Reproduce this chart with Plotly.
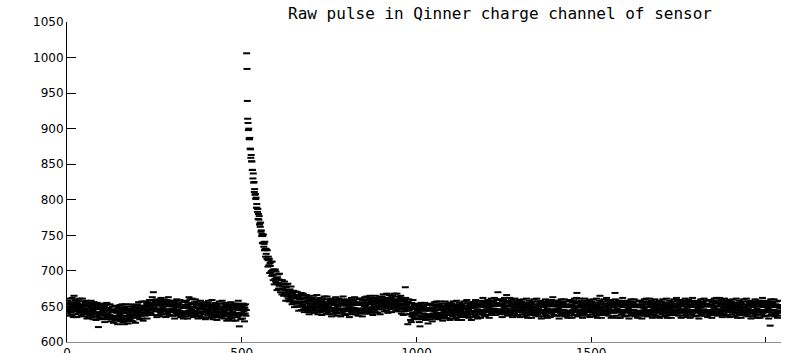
import numpy as np
import plotly.graph_objects as go

# ADC samples before the pulse (samples 0..513)
baseline_pre = [
    653, 645, 658, 640, 648, 661, 643, 650, 637, 654, 646, 656, 642, 651, 638, 662, 645, 653, 635, 649,
    665, 651, 646, 659, 639, 653, 648, 643, 656, 635, 654, 645, 658, 640, 650, 647, 661, 642, 651, 643,
    649, 637, 653, 644, 661, 642, 650, 639, 657, 647, 636, 652, 645, 655, 641, 658, 644, 633, 653, 650,
    642, 653, 634, 650, 647, 639, 655, 643, 637, 658, 640, 648, 635, 651, 645, 632, 653, 642, 656, 640,
    654, 639, 647, 631, 650, 642, 655, 636, 649, 641, 621, 638, 646, 634, 652, 639, 647, 633, 654, 642,
    640, 648, 632, 645, 653, 637, 642, 650, 628, 647, 639, 652, 636, 644, 655, 634, 645, 640, 632, 648,
    648, 638, 634, 653, 637, 645, 629, 642, 646, 632, 650, 635, 643, 627, 645, 642, 634, 651, 637, 630,
    634, 650, 641, 631, 644, 625, 647, 636, 642, 649, 633, 639, 652, 629, 641, 634, 645, 637, 653, 631,
    642, 628, 647, 641, 625, 649, 631, 653, 637, 633, 644, 629, 650, 636, 645, 626, 641, 647, 634, 639,
    632, 642, 653, 635, 630, 646, 643, 638, 650, 629, 645, 648, 634, 642, 637, 651, 627, 645, 640, 646,
    648, 640, 653, 635, 643, 656, 638, 645, 632, 649, 641, 651, 637, 646, 633, 657, 640, 648, 630, 644,
    640, 649, 644, 657, 637, 651, 646, 641, 654, 633, 652, 643, 656, 638, 648, 645, 659, 640, 649, 641,
    651, 639, 655, 646, 663, 644, 652, 670, 659, 649, 638, 654, 647, 657, 643, 660, 646, 635, 655, 652,
    646, 657, 638, 654, 651, 643, 659, 647, 641, 662, 644, 652, 639, 655, 649, 636, 657, 646, 660, 644,
    658, 643, 651, 635, 654, 646, 659, 640, 653, 645, 663, 642, 650, 638, 656, 643, 651, 637, 658, 646,
    645, 653, 637, 650, 658, 642, 647, 655, 633, 652, 644, 657, 641, 649, 660, 639, 650, 645, 637, 653,
    654, 644, 640, 659, 643, 651, 635, 648, 652, 638, 656, 641, 649, 633, 651, 648, 640, 657, 643, 636,
    642, 658, 649, 639, 652, 633, 655, 644, 650, 663, 641, 647, 660, 637, 649, 642, 653, 645, 661, 639,
    649, 635, 654, 648, 641, 656, 638, 660, 644, 640, 651, 636, 657, 643, 652, 633, 648, 654, 641, 646,
    637, 647, 658, 640, 635, 651, 648, 643, 655, 634, 650, 653, 639, 647, 642, 656, 632, 650, 645, 651,
    650, 642, 655, 637, 645, 658, 640, 647, 634, 651, 643, 653, 639, 648, 635, 659, 642, 650, 632, 646,
    638, 647, 642, 655, 635, 649, 644, 639, 652, 631, 650, 641, 654, 636, 646, 643, 657, 638, 647, 639,
    646, 634, 650, 641, 658, 639, 647, 636, 654, 644, 633, 649, 642, 652, 638, 655, 641, 630, 650, 647,
    640, 651, 632, 648, 645, 637, 653, 641, 635, 656, 638, 646, 633, 649, 643, 630, 651, 640, 654, 638,
    653, 638, 646, 630, 649, 641, 654, 635, 648, 640, 658, 637, 645, 622, 651, 638, 646, 632, 653, 641,
    641, 649, 633, 646, 654, 638, 643, 651, 629, 648, 640, 653, 637, 645,
]

# Pulse and its decay (samples 514..699)
pulse = [
    1006, 984, 939, 914,
    908, 898, 900, 886, 885, 887, 872, 871, 859, 863, 854, 854, 842, 842, 830, 837, 824, 825, 811, 815,
    807, 808, 801, 803, 789, 794, 788, 783, 787, 773, 780, 772, 777, 765, 767, 762, 768, 755, 757, 749,
    752, 739, 749, 740, 751, 734, 738, 729, 741, 731, 720, 731, 724, 730, 717, 729, 716, 706, 720, 715,
    708, 717, 697, 711, 707, 698, 713, 700, 693, 713, 694, 701, 687, 702, 695, 681, 701, 689, 702, 685,
    699, 683, 690, 673, 691, 683, 695, 675, 688, 679, 696, 675, 682, 670, 687, 674, 681, 667, 687, 675,
    674, 682, 665, 678, 685, 669, 673, 681, 658, 677, 668, 681, 664, 672, 682, 661, 671, 666, 657, 673,
    674, 664, 659, 678, 662, 669, 653, 665, 669, 655, 672, 657, 665, 649, 666, 663, 655, 671, 657, 650,
    654, 670, 661, 650, 663, 644, 665, 654, 660, 666, 650, 656, 669, 645, 657, 650, 661, 652, 668, 646,
    657, 642, 661, 655, 648, 663, 645, 666, 650, 646, 657, 642, 663, 649, 658, 639, 654, 660, 647, 652,
    644, 654,
]

# Baseline after the pulse (samples 700..2042)
baseline_post = [
    657, 649, 662, 644, 652, 665, 647, 654, 641, 658, 650, 660, 646, 655, 642, 666, 649, 657, 639, 653,
    645, 654, 649, 662, 642, 656, 651, 646, 659, 638, 657, 648, 661, 643, 653, 650, 664, 645, 654, 646,
    652, 640, 656, 647, 664, 645, 653, 642, 660, 650, 639, 655, 648, 658, 644, 661, 647, 636, 656, 653,
    647, 658, 639, 655, 652, 644, 660, 648, 642, 663, 645, 653, 640, 656, 650, 637, 658, 647, 661, 645,
    659, 644, 652, 636, 655, 647, 660, 641, 654, 646, 664, 643, 651, 639, 657, 644, 652, 638, 659, 647,
    647, 655, 639, 652, 660, 644, 649, 657, 635, 654, 646, 659, 643, 651, 662, 641, 652, 647, 639, 655,
    658, 648, 644, 663, 647, 655, 639, 652, 656, 642, 660, 645, 653, 637, 655, 652, 644, 661, 647, 640,
    645, 661, 652, 642, 655, 636, 658, 647, 653, 660, 644, 650, 663, 640, 652, 645, 656, 648, 664, 642,
    654, 640, 659, 653, 646, 661, 643, 665, 649, 645, 656, 641, 662, 648, 657, 638, 653, 659, 646, 651,
    644, 654, 665, 647, 642, 658, 655, 650, 662, 641, 657, 660, 646, 654, 649, 663, 639, 657, 652, 658,
    659, 651, 664, 646, 654, 667, 649, 656, 643, 660, 652, 662, 648, 657, 644, 668, 651, 659, 641, 655,
    649, 658, 653, 666, 646, 660, 655, 650, 663, 642, 661, 652, 665, 647, 657, 654, 668, 649, 658, 650,
    656, 644, 660, 651, 668, 649, 657, 646, 664, 654, 643, 659, 652, 662, 648, 665, 651, 640, 660, 657,
    646, 657, 638, 654, 651, 643, 659, 647, 677, 662, 644, 652, 639, 655, 649, 625, 657, 646, 660, 644,
    654, 639, 647, 631, 650, 628, 655, 636, 649, 641, 659, 638, 646, 634, 652, 639, 647, 633, 654, 642,
    640, 648, 632, 645, 653, 637, 642, 650, 628, 647, 622, 652, 636, 644, 655, 634, 645, 640, 632, 648,
    650, 640, 636, 655, 639, 647, 631, 644, 648, 634, 652, 637, 645, 626, 647, 644, 636, 653, 639, 632,
    638, 654, 645, 635, 648, 629, 651, 640, 646, 653, 637, 643, 656, 633, 645, 638, 649, 641, 657, 635,
    646, 632, 651, 645, 638, 653, 635, 657, 641, 637, 648, 633, 654, 640, 649, 630, 645, 651, 638, 643,
    636, 646, 657, 639, 634, 650, 647, 642, 654, 633, 649, 652, 638, 646, 641, 655, 631, 649, 644, 650,
    649, 641, 654, 636, 644, 657, 639, 646, 633, 650, 642, 652, 638, 647, 634, 658, 641, 649, 631, 645,
    638, 647, 642, 655, 635, 649, 644, 639, 652, 631, 650, 641, 654, 636, 646, 643, 657, 638, 647, 639,
    647, 635, 651, 642, 659, 640, 648, 637, 655, 645, 634, 650, 643, 653, 639, 656, 642, 631, 651, 648,
    643, 654, 635, 651, 648, 640, 656, 644, 638, 659, 641, 649, 636, 652, 646, 633, 654, 643, 657, 641,
    657, 642, 650, 634, 653, 645, 658, 639, 652, 644, 662, 641, 649, 637, 655, 642, 650, 636, 657, 645,
    646, 654, 638, 651, 659, 643, 648, 656, 634, 653, 645, 658, 642, 650, 661, 640, 651, 646, 638, 654,
    657, 647, 643, 662, 646, 654, 638, 651, 655, 641, 659, 644, 652, 670, 654, 651, 643, 660, 646, 639,
    644, 660, 651, 641, 654, 635, 657, 646, 652, 659, 643, 649, 662, 639, 651, 644, 655, 647, 666, 641,
    651, 637, 656, 650, 643, 658, 640, 662, 646, 642, 653, 638, 659, 645, 654, 635, 650, 656, 643, 648,
    640, 650, 661, 643, 638, 654, 651, 646, 658, 637, 653, 656, 642, 650, 645, 659, 635, 653, 648, 654,
    652, 644, 657, 639, 647, 660, 642, 649, 636, 653, 645, 655, 641, 650, 637, 661, 644, 652, 634, 648,
    641, 650, 645, 658, 638, 652, 647, 642, 655, 634, 653, 644, 657, 639, 649, 646, 660, 641, 650, 642,
    649, 637, 653, 644, 661, 642, 650, 639, 657, 647, 636, 652, 645, 655, 641, 658, 644, 633, 653, 650,
    644, 655, 636, 652, 649, 641, 657, 645, 639, 660, 642, 650, 637, 653, 647, 634, 655, 644, 658, 642,
    658, 643, 651, 635, 654, 646, 659, 640, 653, 645, 663, 642, 650, 638, 656, 643, 651, 637, 658, 646,
    645, 653, 637, 650, 658, 642, 647, 655, 633, 652, 644, 657, 641, 649, 660, 639, 650, 645, 637, 653,
    655, 645, 641, 660, 644, 652, 636, 649, 653, 639, 657, 642, 650, 634, 652, 649, 641, 658, 644, 637,
    643, 659, 650, 640, 653, 634, 656, 645, 651, 658, 642, 648, 661, 638, 650, 643, 654, 646, 662, 669,
    650, 636, 655, 649, 642, 657, 639, 661, 645, 641, 652, 637, 658, 644, 653, 634, 649, 655, 642, 647,
    640, 650, 661, 643, 638, 654, 651, 646, 658, 637, 653, 656, 642, 650, 645, 659, 635, 653, 648, 654,
    652, 644, 657, 639, 647, 660, 642, 649, 636, 653, 645, 655, 641, 650, 637, 661, 644, 652, 634, 648,
    641, 650, 645, 658, 638, 665, 647, 642, 655, 634, 653, 644, 657, 639, 649, 646, 660, 641, 650, 642,
    650, 638, 654, 645, 662, 643, 651, 640, 658, 648, 637, 653, 646, 656, 642, 659, 645, 634, 654, 651,
    644, 655, 636, 652, 649, 641, 657, 645, 669, 660, 642, 650, 637, 653, 647, 634, 655, 644, 658, 642,
    657, 642, 650, 634, 653, 645, 658, 639, 652, 644, 662, 641, 649, 637, 655, 642, 650, 636, 657, 645,
    645, 653, 637, 650, 658, 642, 647, 655, 633, 652, 644, 657, 641, 649, 660, 639, 650, 645, 637, 653,
    655, 645, 641, 660, 644, 652, 636, 649, 653, 639, 657, 642, 650, 634, 652, 649, 641, 658, 644, 637,
    642, 658, 649, 639, 652, 633, 655, 644, 650, 657, 641, 647, 660, 637, 649, 642, 653, 645, 661, 639,
    650, 636, 655, 649, 642, 657, 639, 661, 645, 641, 652, 637, 658, 644, 653, 634, 649, 655, 642, 647,
    639, 649, 660, 642, 637, 653, 650, 645, 657, 636, 652, 655, 641, 649, 644, 658, 634, 652, 647, 653,
    652, 644, 657, 639, 647, 660, 642, 649, 636, 653, 645, 655, 641, 650, 637, 661, 644, 652, 634, 648,
    641, 650, 645, 658, 638, 652, 647, 642, 655, 634, 653, 644, 657, 639, 649, 646, 660, 641, 650, 642,
    650, 638, 654, 645, 662, 643, 651, 640, 658, 648, 637, 653, 646, 656, 642, 659, 645, 634, 654, 651,
    645, 656, 637, 653, 650, 642, 658, 646, 640, 661, 643, 651, 638, 654, 648, 635, 656, 645, 659, 643,
    657, 642, 650, 634, 653, 645, 658, 639, 652, 644, 662, 641, 649, 637, 655, 642, 650, 636, 657, 645,
    645, 653, 637, 650, 658, 642, 647, 655, 633, 652, 644, 657, 641, 649, 660, 639, 650, 645, 637, 653,
    656, 646, 642, 661, 645, 653, 637, 650, 654, 640, 658, 643, 651, 635, 653, 650, 642, 659, 645, 638,
    643, 659, 650, 640, 653, 634, 656, 645, 651, 658, 642, 648, 661, 638, 650, 643, 654, 646, 662, 640,
    651, 637, 656, 650, 643, 658, 640, 662, 646, 642, 653, 638, 659, 645, 654, 635, 650, 656, 643, 648,
    640, 650, 661, 643, 638, 654, 651, 646, 658, 637, 653, 656, 642, 650, 645, 659, 635, 653, 648, 654,
    652, 644, 657, 639, 647, 660, 642, 649, 636, 653, 645, 655, 641, 650, 637, 661, 644, 652, 634, 648,
    641, 650, 645, 658, 638, 652, 647, 642, 655, 634, 653, 644, 657, 639, 649, 646, 660, 641, 650, 642,
    649, 637, 653, 644, 661, 642, 650, 639, 657, 647, 636, 652, 645, 655, 641, 658, 644, 633, 653, 650,
    644, 655, 636, 652, 649, 641, 657, 645, 639, 660, 642, 650, 637, 653, 647, 634, 655, 644, 658, 642,
    657, 642, 650, 634, 653, 645, 658, 639, 652, 644, 662, 641, 649, 637, 655, 642, 650, 636, 657, 645,
    645, 653, 637, 650, 658, 642, 647, 655, 633, 652, 644, 657, 623, 649, 660, 639, 650, 645, 637, 653,
    655, 645, 641, 660, 644, 652, 636, 649, 653, 639, 657, 642, 650, 634, 652, 649, 641, 658, 644, 637,
    647, 643, 652,
]

x_ticks = [0, 500, 1000, 1500, 2000]
y_ticks = [600, 650, 700, 750, 800, 850, 900, 950, 1000, 1050]
x_range = [0, 2043]
y_range = [600, 1050]
title_text = "Raw pulse in Qinner charge channel of sensor"

values = baseline_pre + pulse + baseline_post
samples = np.arange(len(values))

fig = go.Figure()
fig.add_trace(go.Scatter(
    x=samples, y=values, mode="markers",
    marker=dict(symbol="line-ew", size=5, color="black",
                line=dict(width=2, color="black")),
    hoverinfo="x+y", showlegend=False,
))

tick_font = dict(family="DejaVu Sans", size=12, color="black")

fig.update_layout(
    width=781, height=353,
    margin=dict(l=67, r=0, t=22, b=11, autoexpand=False),
    paper_bgcolor="white", plot_bgcolor="white",
    showlegend=False,
    title=dict(text=title_text, x=500 / 781, xanchor="center",
               y=1 - 13 / 353, yanchor="middle",
               font=dict(family="DejaVu Sans Mono", size=16, color="black")),
    xaxis=dict(range=x_range, tickmode="array", tickvals=x_ticks,
               ticktext=[str(v) for v in x_ticks],
               ticks="inside", ticklen=5, tickcolor="black", tickwidth=1,
               showline=True, linecolor="#8c8c8c", linewidth=1,
               showgrid=False, zeroline=False, tickfont=tick_font,
               automargin=False),
    xaxis2=dict(range=x_range, overlaying="x", side="top", anchor="y",
                tickmode="array", tickvals=x_ticks, showticklabels=False,
                ticks="inside", ticklen=5, tickcolor="black",
                showline=True, linecolor="black", linewidth=1,
                showgrid=False, zeroline=False),
    yaxis=dict(range=y_range, tickmode="array", tickvals=y_ticks,
               ticktext=[str(v) for v in y_ticks],
               ticks="inside", ticklen=9, tickcolor="black",
               showline=True, linecolor="black", linewidth=1,
               showgrid=False, zeroline=False, tickfont=tick_font,
               automargin=False),
)

fig.write_html("out.html")
